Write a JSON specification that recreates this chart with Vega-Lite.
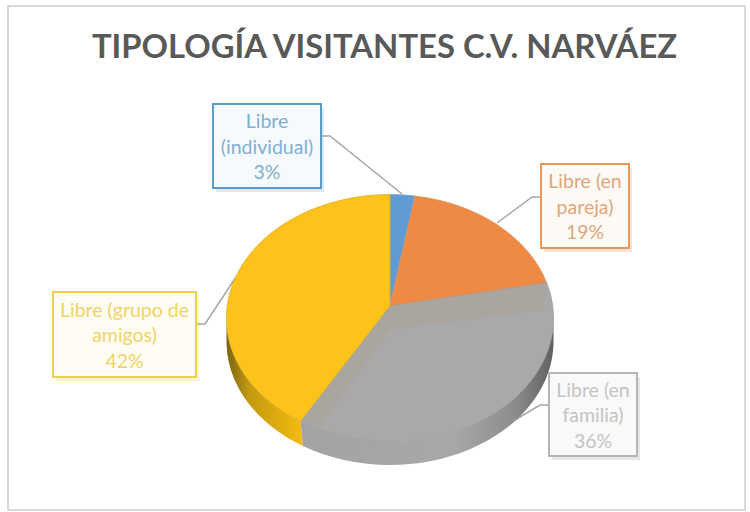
{
"$schema":"https://vega.github.io/schema/vega-lite/v6.json",
"width":737,"height":504,
"autosize":"none",
"padding":{"left":8,"top":6,"right":5,"bottom":2},
"background":"#ffffff",
"view":{"stroke":"#D9D9D9","strokeWidth":2,"fill":"#ffffff"},
"title":{"text":"TIPOLOGÍA VISITANTES C.V. NARVÁEZ","font":"Lato","fontSize":32.8,"fontWeight":"bold","color":"#595959","anchor":"middle","dx":8,"dy":63},
"data":{"values":[
{"category":"Libre (individual)","value":3,"label":"Libre\n(individual)\n3%"},
{"category":"Libre (en pareja)","value":19,"label":"Libre (en\npareja)\n19%"},
{"category":"Libre (en familia)","value":36,"label":"Libre (en\nfamilia)\n36%"},
{"category":"Libre (grupo de amigos)","value":42,"label":"Libre (grupo de\namigos)\n42%"}
]},
"resolve":{"scale":{"x":"independent","y":"independent","shape":"independent","fill":"independent","stroke":"independent","color":"independent"}},
"layer":[
{"mark":{"type":"point","filled":false,"opacity":1,"strokeWidth":1.5,"stroke":"#A6A6A6"},
 "encoding":{
  "x":{"field":"value","type":"quantitative","axis":null,"scale":{"domain":[3,42],"range":[382,382]}},
  "y":{"field":"value","type":"quantitative","axis":null,"scale":{"domain":[3,42],"range":[312,312]}},
  "size":{"value":4},
  "shape":{"field":"category","type":"nominal","legend":null,"scale":{"domain":["Libre (individual)","Libre (en pareja)","Libre (en familia)","Libre (grupo de amigos)"],"range":["M-69,-182L-60,-182L12,-124","M151,-121L142,-121L107,-95","M159,87L150,87L125,102","M-194,6L-185,6L-154,-41"]}}
 }},
{"transform":[{"filter":"datum.value==42"}],
 "mark":{"type":"point","filled":true,"opacity":1,"strokeWidth":0,"fill":{"x1":0,"y1":0,"x2":1,"y2":0,"gradient":"linear","stops":[{"offset":0,"color":"#7A6410"},{"offset":0.3,"color":"#C49A10"},{"offset":1,"color":"#F5BC10"}]}},
 "encoding":{
  "x":{"field":"value","type":"quantitative","axis":null,"scale":{"domain":[3,42],"range":[382,382]}},
  "y":{"field":"value","type":"quantitative","axis":null,"scale":{"domain":[3,42],"range":[312,312]}},
  "size":{"value":4},
  "shape":{"value":"M-163.5,0A163.5,123.5 0 0 0 -89.5,103.4L-87,128A163.5,123.5 0 0 1 -163.5,25Z"}
 }},
{"transform":[{"filter":"datum.value==36"}],
 "mark":{"type":"point","filled":true,"opacity":1,"strokeWidth":0,"fill":{"x1":0,"y1":0,"x2":1,"y2":0,"gradient":"linear","stops":[{"offset":0,"color":"#A3A3A3"},{"offset":0.6,"color":"#A8A8A8"},{"offset":0.85,"color":"#8C8C8C"},{"offset":1,"color":"#5F5F5F"}]}},
 "encoding":{
  "x":{"field":"value","type":"quantitative","axis":null,"scale":{"domain":[3,42],"range":[382,382]}},
  "y":{"field":"value","type":"quantitative","axis":null,"scale":{"domain":[3,42],"range":[312,312]}},
  "size":{"value":4},
  "shape":{"value":"M-89.5,103.4A163.5,123.5 0 0 0 163.5,0L163.5,25A163.5,123.5 0 0 1 -87,128Z"}
 }},
{"mark":{"type":"point","filled":true,"opacity":1,"strokeWidth":0.75},
 "encoding":{
  "x":{"field":"value","type":"quantitative","axis":null,"scale":{"domain":[3,42],"range":[382,382]}},
  "y":{"field":"value","type":"quantitative","axis":null,"scale":{"domain":[3,42],"range":[312,312]}},
  "size":{"value":4},
  "fill":{"field":"category","type":"nominal","legend":null,"scale":{"domain":["Libre (individual)","Libre (en pareja)","Libre (en familia)","Libre (grupo de amigos)"],"range":["#5F9CD6","#EE8A43","#A9A9A9","#FDC31A"]}},
  "stroke":{"field":"category","type":"nominal","legend":null,"scale":{"domain":["Libre (individual)","Libre (en pareja)","Libre (en familia)","Libre (grupo de amigos)"],"range":["#7FA6C6","#D9935F","#9A9A9A","#D9AE30"]}},
  "shape":{"field":"category","type":"nominal","legend":null,"scale":{"domain":["Libre (individual)","Libre (en pareja)","Libre (en familia)","Libre (grupo de amigos)"],"range":["M0,-12L0,-123.5A163.5,123.5 0 0 1 25,-122.05Z","M0,-12L25,-122.05A163.5,123.5 0 0 1 156.7,-35.2Z","M0,-12L156.7,-35.2A163.5,123.5 0 0 1 -89.5,103.4Z","M0,-12L-89.5,103.4A163.5,123.5 0 0 1 0,-123.5Z"]}}
 }},
{"transform":[{"filter":"datum.value==36"}],
 "mark":{"type":"point","filled":true,"opacity":1,"strokeWidth":0,"fill":"#ABA59F"},
 "encoding":{
  "x":{"field":"value","type":"quantitative","axis":null,"scale":{"domain":[3,42],"range":[382,382]}},
  "y":{"field":"value","type":"quantitative","axis":null,"scale":{"domain":[3,42],"range":[312,312]}},
  "size":{"value":4},
  "shape":{"value":"M0,-12L156.7,-34.5L154,-8L0,12L-70,108.7L-88.5,102.7Z"}
 }},
{"mark":{"type":"point","filled":true,"opacity":0.22,"strokeWidth":0},
 "encoding":{
  "x":{"field":"value","type":"quantitative","axis":null,"scale":{"domain":[3,19,36,42],"range":[262,580,588,119.5]}},
  "y":{"field":"value","type":"quantitative","axis":null,"scale":{"domain":[3,19,36,42],"range":[144,204,412.5,332.5]}},
  "size":{"value":4},
  "fill":{"field":"category","type":"nominal","legend":null,"scale":{"domain":["Libre (individual)","Libre (en pareja)","Libre (en familia)","Libre (grupo de amigos)"],"range":["#5B9BD5","#ED7D31","#8C8C8C","#E8C840"]}},
  "shape":{"field":"category","type":"nominal","legend":null,"scale":{"domain":["Libre (individual)","Libre (en pareja)","Libre (en familia)","Libre (grupo de amigos)"],"range":["M-54,-42L54,-42L54,42L-54,42Z","M-44,-42L44,-42L44,42L-44,42Z","M-44,-41.5L44,-41.5L44,41.5L-44,41.5Z","M-71.5,-42.5L71.5,-42.5L71.5,42.5L-71.5,42.5Z"]}}
 }},
{"mark":{"type":"point","filled":true,"opacity":1,"strokeWidth":2},
 "encoding":{
  "x":{"field":"value","type":"quantitative","axis":null,"scale":{"domain":[3,19,36,42],"range":[259,577,585,116.5]}},
  "y":{"field":"value","type":"quantitative","axis":null,"scale":{"domain":[3,19,36,42],"range":[140,200,408.5,328.5]}},
  "size":{"value":4},
  "fill":{"field":"category","type":"nominal","legend":null,"scale":{"domain":["Libre (individual)","Libre (en pareja)","Libre (en familia)","Libre (grupo de amigos)"],"range":["#F6FAFD","#FDF9F5","#F9F9F9","#FEFCF3"]}},
  "stroke":{"field":"category","type":"nominal","legend":null,"scale":{"domain":["Libre (individual)","Libre (en pareja)","Libre (en familia)","Libre (grupo de amigos)"],"range":["#5B9BC8","#E8975A","#B5B5B5","#F0D044"]}},
  "shape":{"field":"category","type":"nominal","legend":null,"scale":{"domain":["Libre (individual)","Libre (en pareja)","Libre (en familia)","Libre (grupo de amigos)"],"range":["M-54,-42L54,-42L54,42L-54,42Z","M-44,-42L44,-42L44,42L-44,42Z","M-44,-41.5L44,-41.5L44,41.5L-44,41.5Z","M-71.5,-42.5L71.5,-42.5L71.5,42.5L-71.5,42.5Z"]}}
 }},
{"mark":{"type":"text","font":"Lato","fontSize":19.5,"lineBreak":"\n","lineHeight":25.5,"align":"center","baseline":"middle","dy":-24},
 "encoding":{
  "x":{"field":"value","type":"quantitative","axis":null,"scale":{"domain":[3,19,36,42],"range":[259,577,585,116.5]}},
  "y":{"field":"value","type":"quantitative","axis":null,"scale":{"domain":[3,19,36,42],"range":[140,200,408.5,328.5]}},
  "text":{"field":"label","type":"nominal"},
  "color":{"field":"category","type":"nominal","legend":null,"scale":{"domain":["Libre (individual)","Libre (en pareja)","Libre (en familia)","Libre (grupo de amigos)"],"range":["#7FAFD3","#E0A77B","#C4C4C4","#F0D468"]}}
 }}
]
}
